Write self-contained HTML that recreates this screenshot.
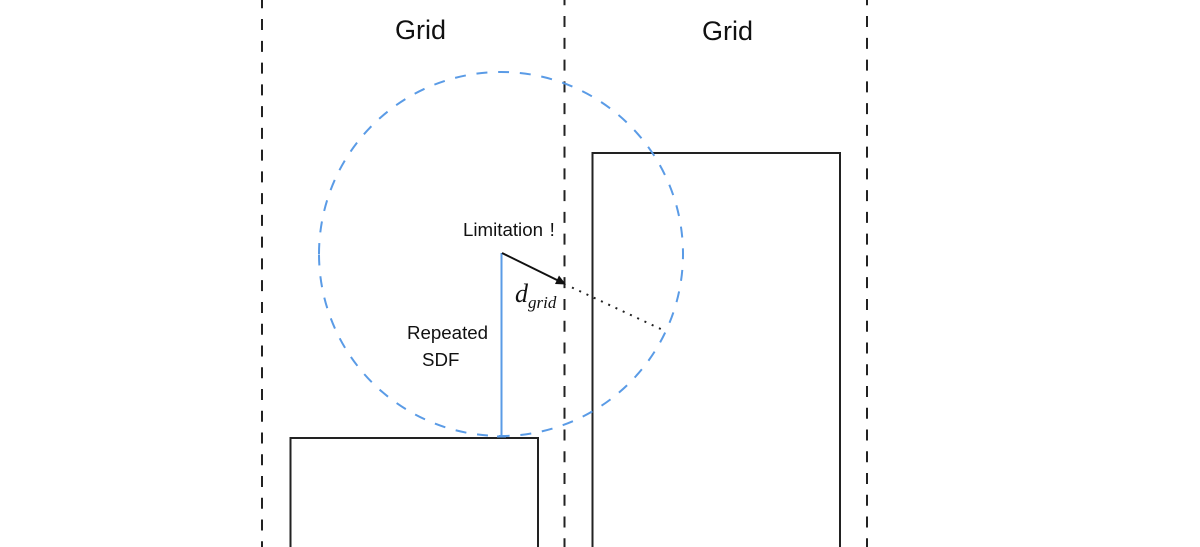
<!DOCTYPE html>
<html><head><meta charset="utf-8"><style>
html,body{margin:0;padding:0;background:#fff;width:1200px;height:547px;overflow:hidden}
svg{display:block}
text{font-family:"Liberation Sans",sans-serif;fill:#111}
</style></head><body>
<svg width="1200" height="547" viewBox="0 0 1200 547" xmlns="http://www.w3.org/2000/svg">
<g fill="none" stroke="#222" stroke-width="2">
<line x1="262" y1="-2.700" x2="262" y2="547" stroke-dasharray="11 10.760"/>
<line x1="564.500" y1="-5.700" x2="564.500" y2="547" stroke-dasharray="11 10.760"/>
<line x1="867" y1="-5.700" x2="867" y2="547" stroke-dasharray="11 10.760"/>
<path d="M592.500 547V153H840V547"/>
<path d="M290.500 547V438H538V547"/>
</g>
<path d="M319 254A182 182 0 1 1 683 254A182 182 0 1 1 319 254" fill="none" stroke="#5a9be6" stroke-width="2" stroke-dasharray="11 10.760"/>
<line x1="501.500" y1="253" x2="501.500" y2="436" stroke="#5a9be6" stroke-width="2"/>
<line x1="497" y1="436.500" x2="506" y2="436.500" stroke="#5a9be6" stroke-width="2"/>
<line x1="502" y1="253" x2="559" y2="281" stroke="#111" stroke-width="2"/>
<polygon points="566,284.500 555,284 559,275.500" fill="#111"/>
<line x1="572" y1="287.500" x2="665" y2="331" stroke="#222" stroke-width="2" stroke-dasharray="2 6"/>
<text x="395" y="39" font-size="27">Grid</text>
<text x="702" y="40" font-size="27">Grid</text>
<text x="463" y="236" font-size="18.700" word-spacing="1.500">Limitation !</text>
<text x="407" y="339" font-size="18.700">Repeated</text>
<text x="422" y="366" font-size="18.700">SDF</text>
<text x="515" y="302" style="font-family:'Liberation Serif',serif;font-style:italic" font-size="26">d</text>
<text x="528" y="308" style="font-family:'Liberation Serif',serif;font-style:italic" font-size="17">grid</text>
</svg>
</body></html>
